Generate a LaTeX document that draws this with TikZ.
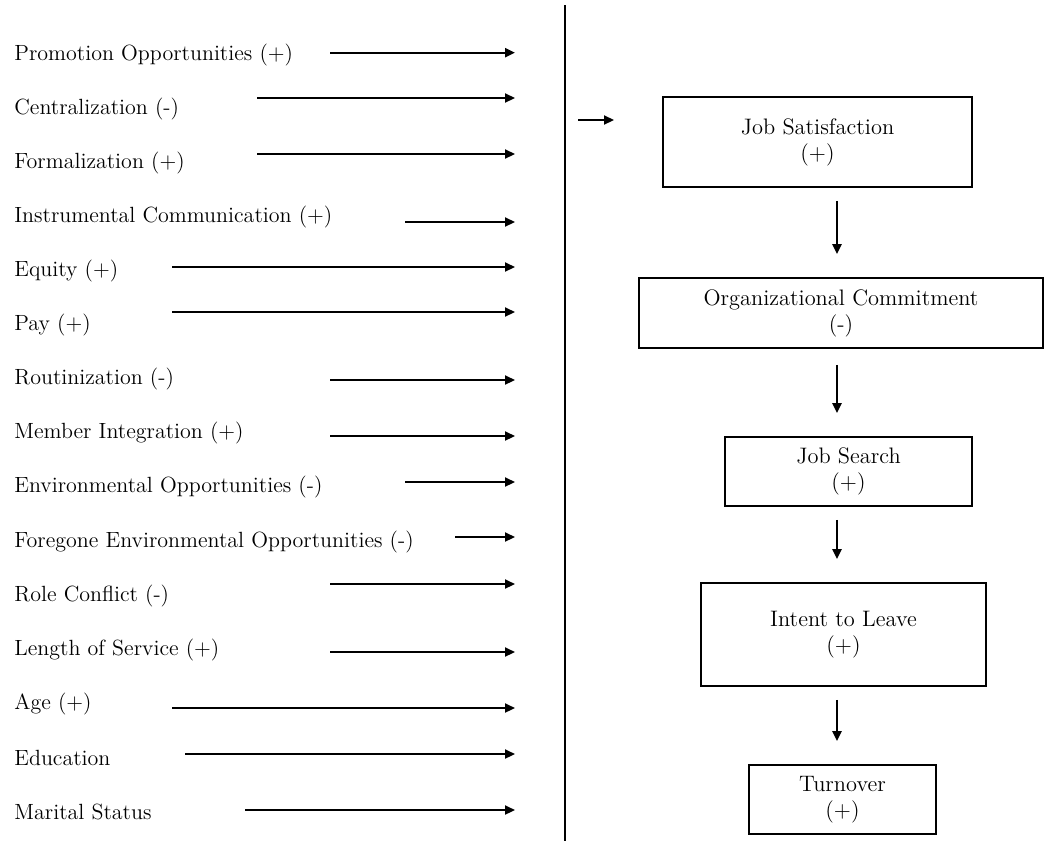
\documentclass[tikz,border=0pt]{standalone}
\usetikzlibrary{arrows.meta}

\begin{document}
\begin{tikzpicture}[x = 0.5pt, y = -0.5pt]
  \tikzstyle{factor}=[anchor = west, inner sep = 0pt, font = \fontsize{11}{13}\selectfont]
  \tikzstyle{stage}=[rectangle, draw = black, line width = 0.9pt, align = center, inner sep = 0pt, font = \fontsize{11.2}{13}\selectfont]
  \tikzstyle{connect}=[-{Triangle[length = 5pt, width = 4.5pt]}, line width = 1.1pt]
  \tikzstyle{flow}=[connect, shorten <= 6.5pt, shorten >= 11.5pt]

  \useasboundingbox (0,0) rectangle (1045,841);

  % predictors
  \node[factor] (promo) at (14,55) {Promotion Opportunities (+)};
  \node[factor] (central) at (14,109) {Centralization (-)};
  \node[factor] (formal) at (14,163) {Formalization (+)};
  \node[factor] (instr) at (14,217) {Instrumental Communication (+)};
  \node[factor] (equity) at (14,271) {Equity (+)};
  \node[factor] (pay) at (14,325) {Pay (+)};
  \node[factor] (routine) at (14,379) {Routinization (-)};
  \node[factor] (member) at (14,433) {Member Integration (+)};
  \node[factor] (envopp) at (14,487) {Environmental Opportunities (-)};
  \node[factor] (foregone) at (14,542) {Foregone Environmental Opportunities (-)};
  \node[factor] (role) at (14,596) {Role Conflict (-)};
  \node[factor] (service) at (14,650) {Length of Service (+)};
  \node[factor] (age) at (14,704) {Age (+)};
  \node[factor] (edu) at (14,758) {Education};
  \node[factor] (marital) at (14,812) {Marital Status};

  \coordinate (rim) at (515,0);
  \coordinate (a1) at (330,52.7);
  \coordinate (a2) at (257,98);
  \coordinate (a3) at (257,154);
  \coordinate (a4) at (405,222);
  \coordinate (a5) at (172,267);
  \coordinate (a6) at (172,312);
  \coordinate (a7) at (330,380);
  \coordinate (a8) at (330,436);
  \coordinate (a9) at (405,482);
  \coordinate (a10) at (455,537);
  \coordinate (a11) at (330,584);
  \coordinate (a12) at (330,652);
  \coordinate (a13) at (172,708);
  \coordinate (a14) at (185,754);
  \coordinate (a15) at (245,810);

  \draw[connect] (a1) -- (a1 -| rim);
  \draw[connect] (a2) -- (a2 -| rim);
  \draw[connect] (a3) -- (a3 -| rim);
  \draw[connect] (a4) -- (a4 -| rim);
  \draw[connect] (a5) -- (a5 -| rim);
  \draw[connect] (a6) -- (a6 -| rim);
  \draw[connect] (a7) -- (a7 -| rim);
  \draw[connect] (a8) -- (a8 -| rim);
  \draw[connect] (a9) -- (a9 -| rim);
  \draw[connect] (a10) -- (a10 -| rim);
  \draw[connect] (a11) -- (a11 -| rim);
  \draw[connect] (a12) -- (a12 -| rim);
  \draw[connect] (a13) -- (a13 -| rim);
  \draw[connect] (a14) -- (a14 -| rim);
  \draw[connect] (a15) -- (a15 -| rim);

  % divider
  \coordinate (top) at (565,5);
  \coordinate (bottom) at (565,841);
  \draw[line width = 1pt] (top) -- (bottom);

  % outcome chain
  \node[stage, minimum width = 154.5pt, minimum height = 45pt] (js) at (817.5,142) {Job Satisfaction\\(+)};
  \node[stage, minimum width = 202pt, minimum height = 35pt] (oc) at (841,313) {Organizational Commitment\\(-)};
  \node[stage, minimum width = 123.5pt, minimum height = 34.5pt] (search) at (848.5,471.5) {Job Search\\(+)};
  \node[stage, minimum width = 142.5pt, minimum height = 51.5pt] (intent) at (843.5,634.5) {Intent to Leave\\(+)};
  \node[stage, minimum width = 93.5pt, minimum height = 34.5pt] (turn) at (842.5,799.5) {Turnover\\(+)};

  \coordinate (in) at (578,120);
  \coordinate (out) at (614,120);
  \draw[connect] (in) -- (out);

  \coordinate (spine) at (837,0);
  \draw[flow] (js.south -| spine) -- (oc.north -| spine);
  \draw[flow, shorten <= 8pt] (oc.south -| spine) -- (search.north -| spine);
  \draw[flow] (search.south -| spine) -- (intent.north -| spine);
  \draw[flow] (intent.south -| spine) -- (turn.north -| spine);

\end{tikzpicture}
\end{document}
